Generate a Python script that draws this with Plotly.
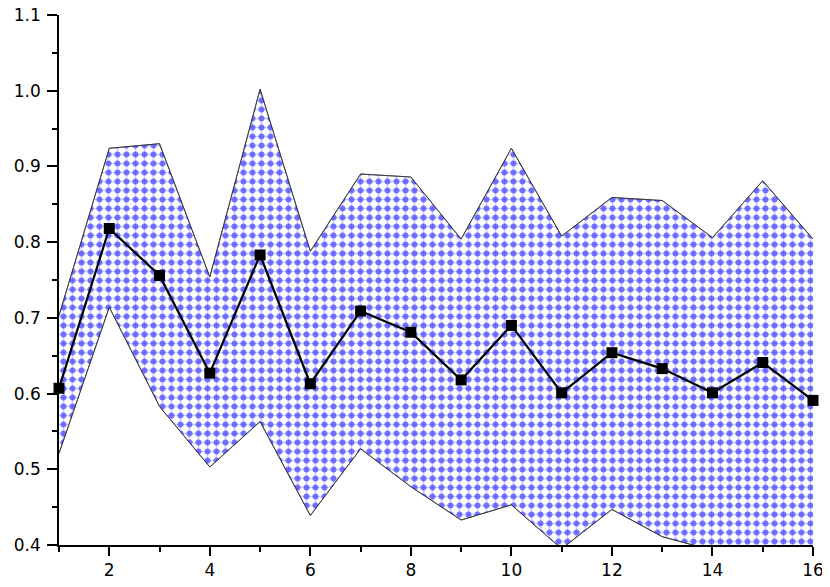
import plotly.graph_objects as go

x = list(range(1, 17))
mean = [0.607, 0.818, 0.756, 0.627, 0.783, 0.613, 0.709, 0.681,
        0.618, 0.690, 0.601, 0.654, 0.633, 0.601, 0.641, 0.591]
upper = [0.703, 0.924, 0.930, 0.754, 1.002, 0.788, 0.890, 0.886,
         0.804, 0.924, 0.808, 0.859, 0.855, 0.806, 0.881, 0.804]
lower = [0.521, 0.714, 0.583, 0.503, 0.563, 0.439, 0.527, 0.477,
         0.433, 0.453, 0.395, 0.447, 0.411, 0.393, 0.388, 0.385]
y_ticks = [0.4, 0.5, 0.6, 0.7, 0.8, 0.9, 1.0, 1.1]

edge = dict(color="#333333", width=0.8)
cell = 9

fig = go.Figure()

# band: lavender grid underneath
fig.add_trace(go.Scatter(x=x, y=lower, mode="lines", line=edge, showlegend=False))
fig.add_trace(go.Scatter(
    x=x, y=upper, mode="lines", line=edge, fill="tonexty", fillcolor="white",
    fillpattern=dict(shape="+", fgcolor="#a0a0ff", bgcolor="white",
                     size=cell, solidity=0.35),
    showlegend=False))

# band: blue dots on top
fig.add_trace(go.Scatter(x=x, y=lower, mode="lines", line=edge, showlegend=False))
fig.add_trace(go.Scatter(
    x=x, y=upper, mode="lines", line=edge, fill="tonexty",
    fillcolor="rgba(0,0,0,0)",
    fillpattern=dict(shape=".", fgcolor="#0000ff", bgcolor="rgba(0,0,0,0)",
                     size=cell, solidity=0.36),
    showlegend=False))

# mean line
fig.add_trace(go.Scatter(
    x=x, y=mean, mode="lines+markers",
    line=dict(color="black", width=2.2),
    marker=dict(symbol="square", size=11, color="black"),
    cliponaxis=False, showlegend=False))

axis_font = dict(family="DejaVu Sans", size=17, color="black")

fig.update_xaxes(
    range=[1, 16], tickvals=list(range(2, 17, 2)), showgrid=False, zeroline=False,
    showline=True, linecolor="black", linewidth=1.5, automargin=False,
    ticklabeloverflow="allow",
    ticks="outside", ticklen=9, tickwidth=1.5, tickcolor="black",
    minor=dict(tickvals=list(range(1, 17, 2)), ticks="outside", ticklen=5,
               tickwidth=1.5, tickcolor="black"),
    tickfont=axis_font)
fig.update_yaxes(
    range=[0.4, 1.1], tickvals=y_ticks, tickformat=".1f", showgrid=False,
    zeroline=False, showline=True, linecolor="black", linewidth=1.5,
    automargin=False, ticklabelstandoff=3, ticklabeloverflow="allow",
    ticks="outside", ticklen=10, tickwidth=1.5, tickcolor="black",
    minor=dict(tickvals=[v + 0.05 for v in y_ticks[:-1]], ticks="outside",
               ticklen=5, tickwidth=1.5, tickcolor="black"),
    tickfont=axis_font)

# the page adds an 8px body margin, so margins are shifted to compensate
fig.update_layout(
    width=830, height=587,
    margin=dict(l=51, r=25, t=7, b=50),
    plot_bgcolor="white", paper_bgcolor="white",
    font=axis_font,
)

fig.write_html("out.html")
